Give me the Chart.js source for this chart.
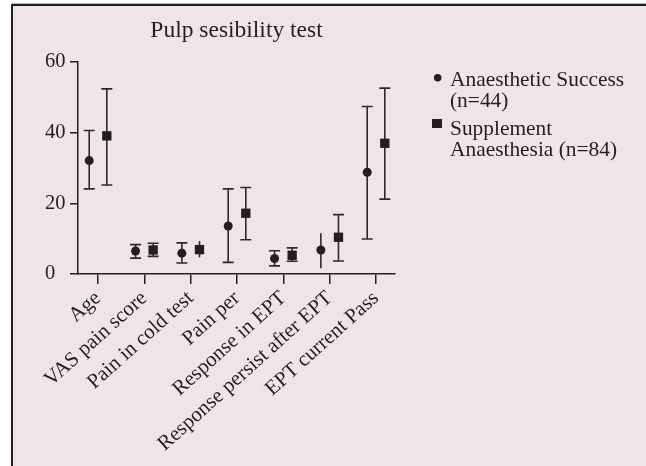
<!DOCTYPE html>
<html>
<head>
<meta charset="utf-8">
<script src="https://cdn.jsdelivr.net/npm/chart.js@4.4.0/dist/chart.umd.min.js"></script>
<style>
  html, body { margin: 0; padding: 0; background: #ffffff; }
  #wrap { position: absolute; left: 0; top: 0; width: 646px; height: 466px; }
</style>
</head>
<body>
<div id="wrap"><canvas id="c"></canvas></div>
<script>
// ---- data ----
const categories = ["Age", "VAS pain score", "Pain in cold test", "Pain per",
                    "Response in EPT", "Response persist after EPT", "EPT current Pass"];
const successMean = [32.1, 6.5, 5.9, 13.6, 4.4, 6.8, 28.8];
const successLow  = [24.1, 4.5, 3.1, 3.3, 2.3, 1.6, 9.9];
const successHigh = [40.6, 8.3, 8.8, 24.1, 6.6, 11.5, 47.4];
const supplementMean = [39.1, 6.8, 6.9, 17.2, 5.3, 10.4, 37.0];
const supplementLow  = [25.2, 5.0, 4.7, 9.7, 3.6, 3.7, 21.2];
const supplementHigh = [52.4, 8.7, 9.3, 24.5, 7.4, 16.8, 52.6];
const yTicks = [0, 20, 40, 60];
const titleText = "Pulp sesibility test";
const legendLabels = [["Anaesthetic Success", "(n=44)"], ["Supplement", "Anaesthesia (n=84)"]];

// ---- styling ----
const INK = "#231f20";
const BG = "rgb(240,228,235)";
const FONT = "'Liberation Serif', 'Times New Roman', serif";
const OFFSET = 0.19;

function toPoints(vals, off) { return vals.map((v, i) => ({ x: i + off, y: v })); }

const errorSets = [
  { low: successLow, high: successHigh, off: -OFFSET },
  { low: supplementLow, high: supplementHigh, off: OFFSET }
];

const bgPlugin = {
  id: 'bg',
  beforeDraw(chart) {
    const ctx = chart.ctx;
    ctx.save();
    ctx.fillStyle = "#ffffff";
    ctx.fillRect(0, 0, chart.width, chart.height);
    ctx.fillStyle = BG;
    ctx.fillRect(12, 4, chart.width - 12, chart.height - 4);
    ctx.fillStyle = "#b8b4b6";
    ctx.fillRect(12, 3, chart.width - 12, 1);
    ctx.fillStyle = INK;
    ctx.fillRect(12, 4, chart.width - 12, 2);
    ctx.fillRect(11, 4, 2, chart.height - 4);
    ctx.restore();
  }
};

const errorBarPlugin = {
  id: 'errorBars',
  beforeDatasetsDraw(chart, args, opts) {
    const ctx = chart.ctx;
    const xs = chart.scales.x, ys = chart.scales.y;
    ctx.save();
    ctx.strokeStyle = "#2e2a2b";
    ctx.lineWidth = 1.6;
    errorSets.forEach((s, d) => {
      s.low.forEach((lo, i) => {
        const x = xs.getPixelForValue(i + s.off);
        const yl = ys.getPixelForValue(lo);
        const yh = ys.getPixelForValue(s.high[i]);
        ctx.beginPath();
        ctx.moveTo(x, yl); ctx.lineTo(x, yh);
        const noCap = opts.noCap.some(n => n[0] === d && n[1] === i);
        if (!noCap) {
          ctx.moveTo(x - opts.cap, yl); ctx.lineTo(x + opts.cap, yl);
          ctx.moveTo(x - opts.cap, yh); ctx.lineTo(x + opts.cap, yh);
        }
        ctx.stroke();
      });
    });
    ctx.restore();
  }
};

const textPlugin = {
  id: 'texts',
  afterDraw(chart) {
    const ctx = chart.ctx;
    const ca = chart.chartArea;
    ctx.save();
    ctx.fillStyle = INK;
    ctx.font = "23.5px " + FONT;
    ctx.textAlign = "center";
    ctx.textBaseline = "alphabetic";
    ctx.fillText(titleText, (ca.left + ca.right) / 2, 37);

    // legend
    ctx.font = "21.4px " + FONT;
    ctx.textAlign = "left";
    ctx.beginPath();
    ctx.arc(437.7, 77.7, 3.8, 0, Math.PI * 2);
    ctx.fill();
    ctx.fillText(legendLabels[0][0], 450, 85.7);
    ctx.fillText(legendLabels[0][1], 450, 106.7);
    ctx.fillRect(432, 119, 10, 9);
    ctx.fillText(legendLabels[1][0], 450, 135);
    ctx.fillText(legendLabels[1][1], 450, 155.5);
    ctx.restore();
  }
};

new Chart(document.getElementById('c'), {
  type: 'scatter',
  data: {
    datasets: [
      {
        label: legendLabels[0].join(' '),
        data: toPoints(successMean, -OFFSET),
        pointStyle: 'circle',
        pointRadius: 4.5,
        pointBackgroundColor: INK,
        pointBorderWidth: 0,
        showLine: false
      },
      {
        label: legendLabels[1].join(' '),
        data: toPoints(supplementMean, OFFSET),
        pointStyle: 'rect',
        pointRadius: 6.6,
        pointBackgroundColor: INK,
        pointBorderWidth: 0,
        showLine: false
      }
    ]
  },
  options: {
    responsive: true,
    maintainAspectRatio: false,
    animation: false,
    events: [],
    layout: { padding: { left: 45, right: 251, top: 62, bottom: 0 } },
    plugins: {
      legend: { display: false },
      title: { display: false },
      tooltip: { enabled: false },
      errorBars: { cap: 5.5, noCap: [[0, 5], [1, 2]] }
    },
    scales: {
      x: {
        type: 'linear',
        min: -0.432,
        max: 6.41,
        afterBuildTicks(scale) { scale.ticks = categories.map((_, i) => ({ value: i })); },
        afterFit(scale) { scale.height = 192; },
        ticks: {
          autoSkip: false,
          minRotation: 42,
          maxRotation: 42,
          padding: 2,
          color: INK,
          font: { family: FONT, size: 21 },
          callback: (v) => categories[v]
        },
        grid: { drawOnChartArea: false, drawTicks: true, tickLength: 10, color: INK, lineWidth: 1.5 },
        border: { display: true, color: INK, width: 1.5 }
      },
      y: {
        min: 0,
        max: 60,
        afterBuildTicks(scale) { scale.ticks = yTicks.map(v => ({ value: v })); },
        afterFit(scale) { scale.width = 33; },
        ticks: {
          crossAlign: 'far',
          color: INK,
          font: { family: FONT, size: 20.5 }
        },
        grid: { drawOnChartArea: false, drawTicks: true, tickLength: 8, color: INK, lineWidth: 1.5 },
        border: { display: true, color: INK, width: 1.5 }
      }
    }
  },
  plugins: [bgPlugin, errorBarPlugin, textPlugin]
});
</script>
</body>
</html>
